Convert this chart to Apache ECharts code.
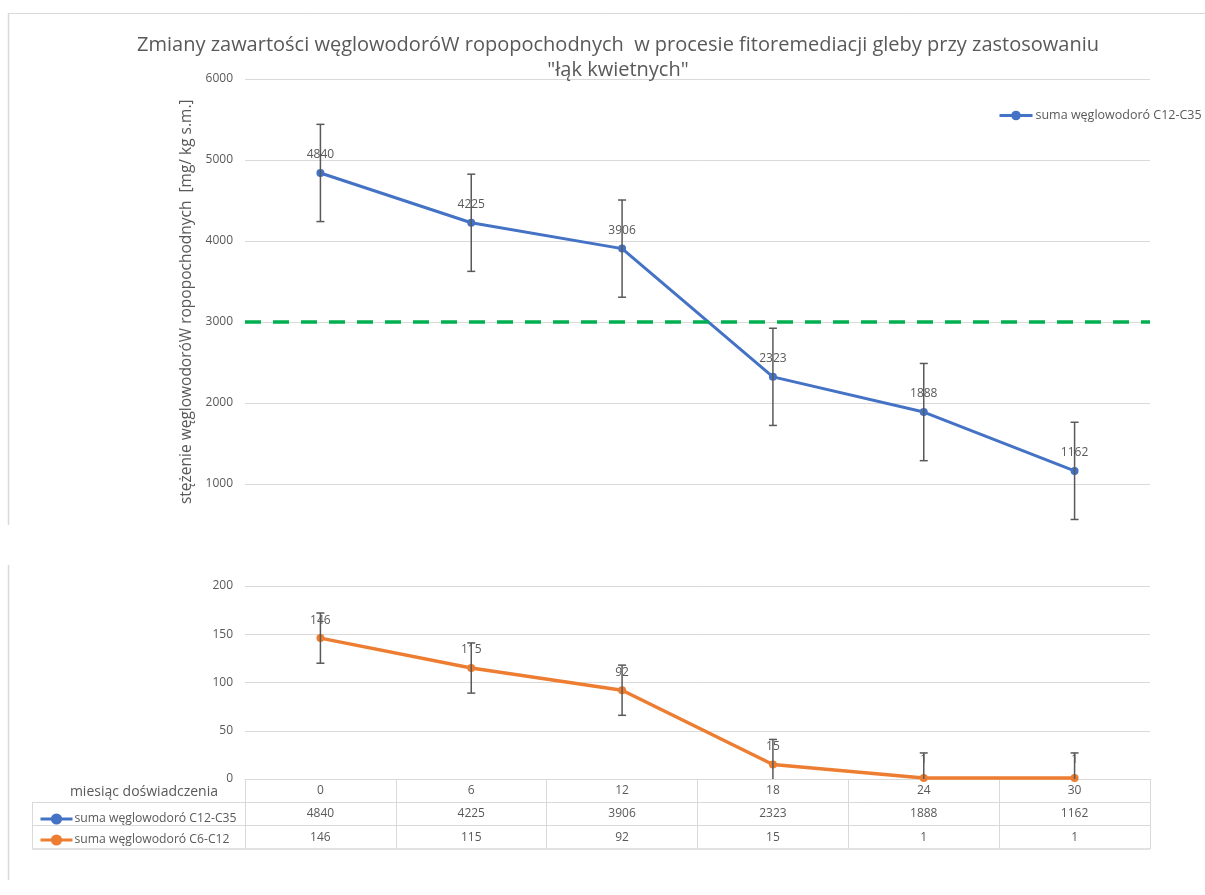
<!DOCTYPE html>
<html>
<head>
<meta charset="utf-8">
<script src="https://cdn.jsdelivr.net/npm/echarts@6/dist/echarts.min.js"></script>
<style>
html,body{margin:0;padding:0;background:#fff;}
#chart{width:1205px;height:895px;}
</style>
</head>
<body>
<div id="chart"></div>
<script>
const months = ['0', '6', '12', '18', '24', '30'];
const seriesC12C35 = [4840, 4225, 3906, 2323, 1888, 1162];
const seriesC6C12 = [146, 115, 92, 15, 1, 1];
const errC12C35 = [600, 600, 600, 600, 600, 600];
const errC6C12 = [26, 26, 26, 26, 26, 26];
const threshold = 3000;
const nameC12C35 = 'suma węglowodoró C12-C35';
const nameC6C12 = 'suma węglowodoró C6-C12';
const titleText = 'Zmiany zawartości węglowodoróW ropopochodnych  w procesie fitoremediacji gleby przy zastosowaniu\n"łąk kwietnych"';
const yAxisName = 'stężenie węglowodoróW ropopochodnych  [mg/ kg s.m.]';
const xAxisName = 'miesiąc doświadczenia';

const FONT = '"Open Sans", "Noto Sans", sans-serif';
const TXT = '#595959';
const GRIDC = '#d9d9d9';

function errData(vals, errs) {
  return vals.map((v, i) => [i, v - errs[i], v + errs[i]]);
}
function errRender(floorVal) {
  return function (params, api) {
    const x = api.value(0);
    let lo = api.value(1);
    const hi = api.value(2);
    let clamped = false;
    if (lo < floorVal) { lo = floorVal; clamped = true; }
    const p1 = api.coord([x, hi]);
    const p2 = api.coord([x, lo]);
    const w = 4;
    const st = { stroke: '#595959', lineWidth: 1.5 };
    const ch = [
      { type: 'line', shape: { x1: p1[0], y1: p1[1], x2: p2[0], y2: p2[1] }, style: st },
      { type: 'line', shape: { x1: p1[0] - w, y1: p1[1], x2: p1[0] + w, y2: p1[1] }, style: st }
    ];
    if (!clamped) ch.push({ type: 'line', shape: { x1: p2[0] - w, y1: p2[1], x2: p2[0] + w, y2: p2[1] }, style: st });
    return { type: 'group', children: ch };
  };
}

const chart = echarts.init(document.getElementById('chart'));
const labelStyle = { show: true, position: 'top', distance: 8, color: TXT, fontSize: 12, fontFamily: FONT };

chart.setOption({
  animation: false,
  textStyle: { fontFamily: FONT },
  title: {
    text: titleText,
    left: 613, top: 28, textAlign: 'center',
    textStyle: { fontSize: 20, fontWeight: 'normal', color: TXT, lineHeight: 25, fontFamily: FONT }
  },
  legend: [
    {
      data: [nameC12C35], left: 993, top: 104, itemWidth: 33, itemHeight: 12, itemGap: 5,
      lineStyle: { width: 3 },
      textStyle: { fontSize: 12.5, color: TXT, fontFamily: FONT, padding: [0, 0, 0, -2] }
    },
    {
      data: [nameC12C35, nameC6C12], orient: 'vertical', left: 34, top: 808, itemGap: 9,
      itemWidth: 32, itemHeight: 14,
      lineStyle: { width: 3 },
      textStyle: { fontSize: 12.2, color: TXT, fontFamily: FONT, padding: [0, 0, 0, -3] }
    }
  ],
  grid: [
    { left: 245, right: 55, top: 79, height: 445.5 },
    { left: 245, right: 55, top: 586, height: 193 }
  ],
  xAxis: [
    { gridIndex: 0, type: 'category', data: months, show: false, boundaryGap: true },
    {
      gridIndex: 1, type: 'category', data: months, boundaryGap: true,
      axisLine: { show: true, lineStyle: { color: GRIDC, width: 1 } },
      axisTick: { show: true, length: 70, lineStyle: { color: GRIDC } },
      axisLabel: {
        margin: 0, interval: 0,
        formatter: (v, i) => `{a|${months[i]}}\n{a|${seriesC12C35[i]}}\n{a|${seriesC6C12[i]}}`,
        rich: { a: { fontSize: 12, color: TXT, lineHeight: 23.3, fontFamily: FONT } }
      }
    }
  ],
  yAxis: [
    {
      gridIndex: 0, type: 'value', min: 500, max: 6000,
      name: yAxisName, nameLocation: 'middle', nameGap: 50,
      nameTextStyle: { fontSize: 15.5, color: TXT, fontFamily: FONT, padding: [0, 0, 0, 0] },
      axisLine: { show: false }, axisTick: { show: false },
      axisLabel: { color: TXT, fontSize: 12, margin: 12, showMinLabel: false, fontFamily: FONT, formatter: v => String(v) },
      splitLine: { show: true, showMinLine: false, lineStyle: { color: GRIDC, width: 1 } }
    },
    {
      gridIndex: 1, type: 'value', min: 0, max: 200, interval: 50,
      axisLine: { show: false }, axisTick: { show: false },
      axisLabel: { color: TXT, fontSize: 12, margin: 12, fontFamily: FONT, formatter: v => String(v) },
      splitLine: { show: true, lineStyle: { color: GRIDC, width: 1 } }
    }
  ],
  series: [
    {
      name: nameC12C35, type: 'line', xAxisIndex: 0, yAxisIndex: 0, data: seriesC12C35,
      symbol: 'circle', symbolSize: 8, z: 3,
      lineStyle: { color: '#4472C4', width: 3 }, itemStyle: { color: '#4472C4' },
      label: labelStyle,
      markLine: {
        silent: true, symbol: 'none', label: { show: false },
        lineStyle: { color: '#00B050', width: 3.5, type: [16, 12] },
        data: [{ yAxis: threshold }]
      }
    },
    {
      name: 'err1', type: 'custom', xAxisIndex: 0, yAxisIndex: 0, z: 4,
      data: errData(seriesC12C35, errC12C35), encode: { x: 0, y: [1, 2] },
      renderItem: errRender(500)
    },
    {
      name: nameC6C12, type: 'line', xAxisIndex: 1, yAxisIndex: 1, data: seriesC6C12,
      symbol: 'circle', symbolSize: 8, z: 3,
      lineStyle: { color: '#ED7D31', width: 3.5 }, itemStyle: { color: '#ED7D31' },
      label: labelStyle
    },
    {
      name: 'err2', type: 'custom', xAxisIndex: 1, yAxisIndex: 1, z: 4,
      data: errData(seriesC6C12, errC6C12), encode: { x: 0, y: [1, 2] },
      renderItem: errRender(0)
    }
  ],
  graphic: [
    { type: 'line', shape: { x1: 8, y1: 13.5, x2: 1205, y2: 13.5 }, style: { stroke: GRIDC, lineWidth: 1 } },
    { type: 'line', shape: { x1: 8.5, y1: 13, x2: 8.5, y2: 525 }, style: { stroke: GRIDC, lineWidth: 1.5 } },
    { type: 'line', shape: { x1: 8.5, y1: 565, x2: 8.5, y2: 880 }, style: { stroke: GRIDC, lineWidth: 1.5 } },
    { type: 'line', shape: { x1: 32, y1: 802.5, x2: 1150, y2: 802.5 }, style: { stroke: GRIDC, lineWidth: 1 } },
    { type: 'line', shape: { x1: 32, y1: 825.5, x2: 1150, y2: 825.5 }, style: { stroke: GRIDC, lineWidth: 1 } },
    { type: 'line', shape: { x1: 32, y1: 849, x2: 1150, y2: 849 }, style: { stroke: GRIDC, lineWidth: 1.5 } },
    { type: 'line', shape: { x1: 32.5, y1: 802.5, x2: 32.5, y2: 849 }, style: { stroke: GRIDC, lineWidth: 1 } },
    {
      type: 'text', x: 218, y: 792,
      style: { text: xAxisName, fill: TXT, font: '14px ' + FONT, align: 'right', verticalAlign: 'middle' }
    }
  ]
});
</script>
</body>
</html>
